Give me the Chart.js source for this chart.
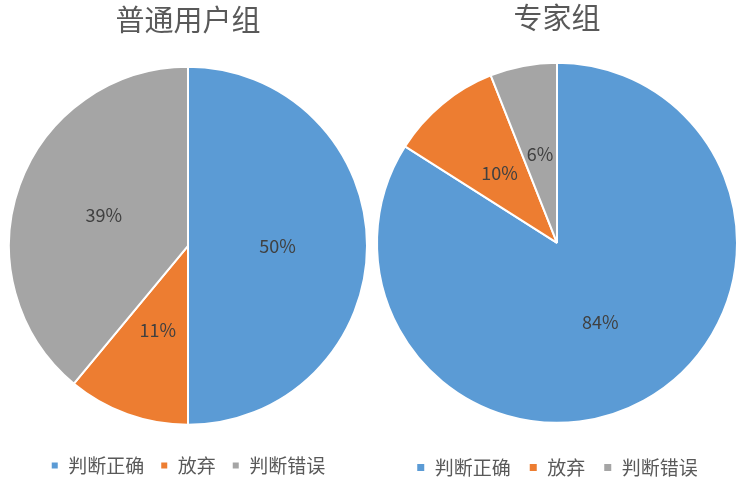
<!DOCTYPE html>
<html>
<head>
<meta charset="utf-8">
<script src="https://cdn.jsdelivr.net/npm/chart.js@4/dist/chart.umd.min.js"></script>
<style>
  html, body { margin: 0; background: #fff; overflow: hidden; width: 747px; height: 485px; }
  .box { position: absolute; top: 0; }
  #leftBox { left: 0; width: 376px; height: 485px; }
  #rightBox { left: 371px; width: 372px; height: 487px; }
</style>
</head>
<body>
<div class="box" id="leftBox"><canvas id="commonChart"></canvas></div>
<div class="box" id="rightBox"><canvas id="expertChart"></canvas></div>
<script>
const categories = ["判断正确", "放弃", "判断错误"];
const commonValues = [50, 11, 39];
const expertValues = [84, 10, 6];
const sliceColors = ["#5B9BD5", "#ED7D31", "#A5A5A5"];
const FONT = "'Noto Sans CJK SC', 'Noto Sans', sans-serif";

// draws "xx%" in the middle of each slice
const sliceLabels = {
  id: "sliceLabels",
  afterDatasetsDraw(chart) {
    const ctx = chart.ctx;
    const meta = chart.getDatasetMeta(0);
    ctx.save();
    ctx.font = "18px " + FONT;
    ctx.fillStyle = "#404040";
    ctx.textAlign = "center";
    ctx.textBaseline = "middle";
    meta.data.forEach((arc, i) => {
      const p = arc.tooltipPosition();
      ctx.fillText(chart.data.datasets[0].data[i] + "%", p.x, p.y);
    });
    ctx.restore();
  },
};

const makePie = (canvasId, values, title, opts) => {
  return new Chart(document.getElementById(canvasId), {
    type: "pie",
    data: {
      labels: categories,
      datasets: [
        {
          data: values,
          backgroundColor: sliceColors,
          borderColor: "white",
          borderWidth: 2,
        },
      ],
    },
    options: {
      responsive: true,
      maintainAspectRatio: false,
      animation: false,
      layout: { padding: opts.padding },
      plugins: {
        title: {
          display: true,
          text: title,
          color: "#595959",
          font: { family: FONT, size: 29, weight: "normal" },
          padding: opts.titlePadding,
        },
        legend: {
          position: "bottom",
          // empty legend title only used as a spacer above the items
          title: { display: true, text: "", font: { size: 1 }, padding: { top: opts.legendGapTop, bottom: 0 } },
          labels: {
            color: "#595959",
            boxWidth: opts.box,
            boxHeight: opts.box,
            padding: opts.itemGap,
            font: { family: FONT, size: 19 },
          },
        },
        tooltip: { enabled: false },
      },
    },
    plugins: [sliceLabels],
  });
};

makePie("commonChart", commonValues, "普通用户组", {
  padding: { left: 8, right: 8, bottom: 0 },
  titlePadding: { top: 3, bottom: 28 },
  box: 8,
  itemGap: 16,
  legendGapTop: 13,
});

makePie("expertChart", expertValues, "专家组", {
  padding: { left: 5, right: 5, bottom: 0 },
  titlePadding: { top: 1, bottom: 26 },
  box: 9,
  itemGap: 18,
  legendGapTop: 15,
});
</script>
</body>
</html>
